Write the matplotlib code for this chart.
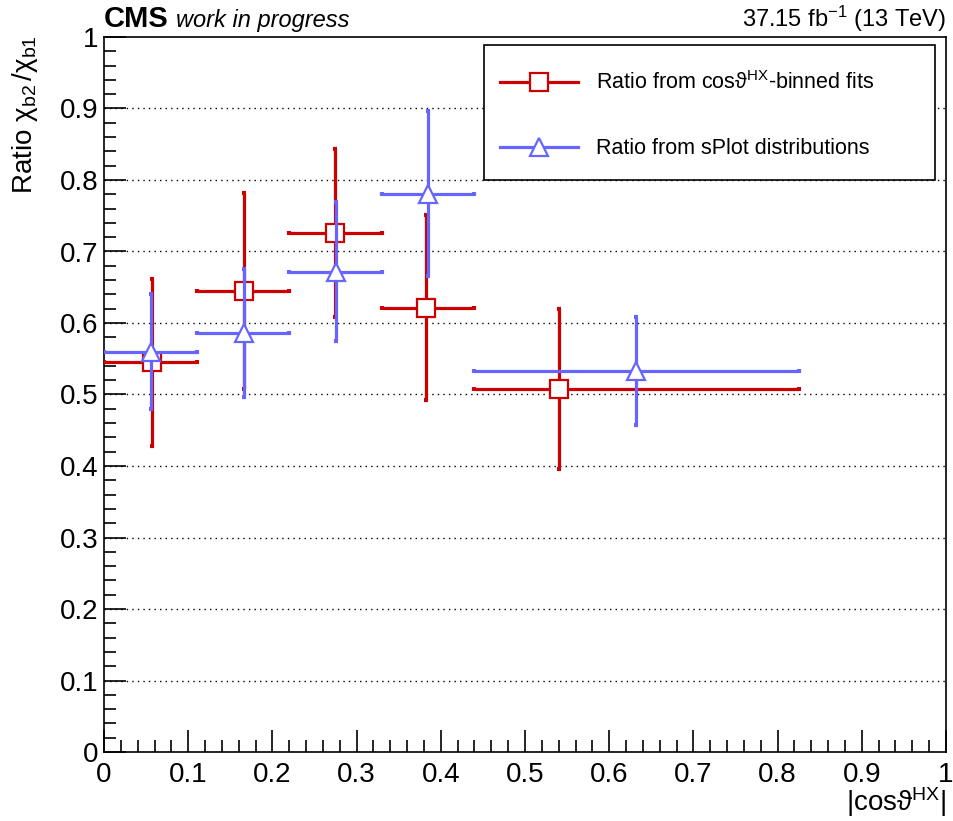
import matplotlib
matplotlib.use("Agg")
import matplotlib.pyplot as plt
from matplotlib.lines import Line2D
from matplotlib.patches import Rectangle
from matplotlib.ticker import MultipleLocator, FuncFormatter
import numpy as np

plt.rcParams['font.family'] = ['Liberation Sans', 'DejaVu Sans']
plt.rcParams['mathtext.fontset'] = 'custom'
plt.rcParams['mathtext.rm'] = 'Liberation Sans'
plt.rcParams['mathtext.it'] = 'Liberation Sans:italic'
plt.rcParams['mathtext.bf'] = 'Liberation Sans:bold'
plt.rcParams['mathtext.fallback'] = 'stixsans'

# |cos theta^HX| bin edges
bin_edges = [0.0, 0.11, 0.22, 0.33, 0.44, 0.825]

# Ratio from cos(theta)-binned fits
fit_x = [0.0567, 0.166, 0.2743, 0.3825, 0.5404]
fit_y = [0.545, 0.645, 0.726, 0.621, 0.508]
fit_err_lo = [0.117, 0.138, 0.117, 0.129, 0.112]
fit_err_hi = [0.116, 0.137, 0.117, 0.130, 0.112]

# Ratio from sPlot distributions
splot_x = [0.056, 0.166, 0.2755, 0.385, 0.6314]
splot_y = [0.560, 0.586, 0.672, 0.781, 0.533]
splot_err_lo = [0.080, 0.089, 0.097, 0.115, 0.075]
splot_err_hi = [0.081, 0.089, 0.097, 0.116, 0.075]

x_ticks = np.round(np.arange(0, 1.01, 0.1), 1)
y_ticks = np.round(np.arange(0, 1.01, 0.1), 1)

RED = '#cc0000'
RED_DARK = '#660000'
BLUE = '#6666ff'
BLUE_DARK = '#1a1a66'

fig = plt.figure(figsize=(9.54, 8.21), dpi=100)
ax = fig.add_axes([104 / 954, 69 / 821, 842 / 954, 715 / 821])

ax.set_xlim(0, 1)
ax.set_ylim(0, 1)

for yv in y_ticks[1:-1]:
    ax.axhline(yv, color='black', lw=1.0, ls=(0, (1, 3)), zorder=1)


def draw_series(x, y, elo, ehi, color, dark, marker, ms, z):
    x = np.asarray(x)
    lo = np.asarray(bin_edges[:-1])
    hi = np.asarray(bin_edges[1:])
    xerr = np.vstack([x - lo, hi - x])
    yerr = np.vstack([elo, ehi])
    cont = ax.errorbar(x, y, xerr=xerr, yerr=yerr, fmt='none', ecolor=color,
                       elinewidth=2.3, capsize=1.3, capthick=3.0, zorder=z)
    for cap in cont[1]:
        cap.set_color(dark)
    ax.plot(x, y, ls='none', marker=marker, ms=ms, mfc='white', mec=color,
            mew=1.6, zorder=z + 0.5)


draw_series(fit_x, fit_y, fit_err_lo, fit_err_hi, RED, RED_DARK, 's', 12.5, 3)
draw_series(splot_x, splot_y, splot_err_lo, splot_err_hi, BLUE, BLUE_DARK, '^', 13, 5)

ax.xaxis.set_major_locator(MultipleLocator(0.1))
ax.xaxis.set_minor_locator(MultipleLocator(0.02))
ax.yaxis.set_major_locator(MultipleLocator(0.1))
ax.yaxis.set_minor_locator(MultipleLocator(0.02))
fmt = FuncFormatter(lambda v, p: f'{v:g}')
ax.xaxis.set_major_formatter(fmt)
ax.yaxis.set_major_formatter(fmt)
ax.tick_params(which='major', direction='in', length=16, width=1.2,
               top=False, right=False, labelsize=20)
ax.tick_params(axis='x', which='major', pad=7)
ax.tick_params(axis='y', which='major', pad=4)
ax.tick_params(which='minor', direction='in', length=8.5, width=1.2,
               top=False, right=False)
for sp in ax.spines.values():
    sp.set_linewidth(1.2)

ax.set_xlabel(r'|cosϑ$^{\mathrm{HX}}$|', fontsize=20, loc='right')
ax.xaxis.set_label_coords(1.0, -0.046)
ax.set_ylabel(r'Ratio $\mathrm{χ}_{\mathrm{b2}}\,/\mathrm{χ}_{\mathrm{b1}}$',
              fontsize=20, loc='top')
ax.yaxis.set_label_coords(-0.076, 1.003)

ax.text(0.0, 1.014, 'CMS', transform=ax.transAxes, fontsize=21,
        fontweight='bold', ha='left', va='baseline')
ax.text(0.0855, 1.014, 'work in progress', transform=ax.transAxes, fontsize=17,
        style='italic', ha='left', va='baseline')
ax.text(1.0, 1.014, r'37.15 fb$^{\mathrm{-1}}$ (13 TeV)', transform=ax.transAxes,
        fontsize=17, ha='right', va='baseline')

# legend frame
ax.add_patch(Rectangle((0.4513, 0.80), 0.5357, 0.1888, transform=ax.transAxes,
                       facecolor='white', edgecolor='black', lw=1.2, zorder=8))

handles = [
    Line2D([], [], color=RED, lw=2.3, marker='s', ms=12.5, mfc='white',
           mec=RED, mew=1.6),
    Line2D([], [], color=BLUE, lw=2.3, marker='^', ms=13, mfc='white',
           mec=BLUE, mew=1.6),
]
labels = [r'Ratio from cosϑ$^{\mathrm{HX}}$-binned fits',
          'Ratio from sPlot distributions']
leg = ax.legend(handles, labels, loc='upper left',
                bbox_to_anchor=(0.4703, 0.952), frameon=False,
                fontsize=15.5, handlelength=3.63, handletextpad=0.82,
                borderpad=0.0, labelspacing=2.05, borderaxespad=0.0)
leg.set_zorder(9)

fig.savefig('out.png', dpi=100)
